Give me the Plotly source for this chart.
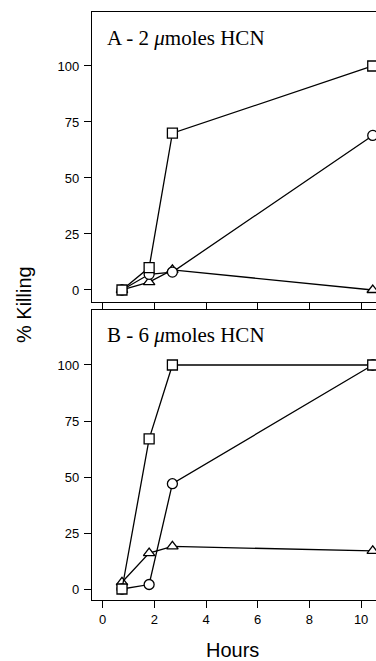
import plotly.graph_objects as go

# ---- data ----
hours = [0.75, 1.8, 2.7, 10.45]

a_square = [0, 10, 70, 100]
a_circle = [0, 7, 8, 69]
a_triangle = [0, 3.5, 9, 0]

b_square = [0, 67, 100, 100]
b_circle = [0, 2, 47, 100]
b_triangle = [3, 16, 19, 17]

x_ticks = [0, 2, 4, 6, 8, 10]
y_ticks = [0, 25, 50, 75, 100]
panel_titles = ["A - 2 <i>μ</i>moles HCN", "B - 6 <i>μ</i>moles HCN"]

# ---- layout geometry (pixels) ----
W, H = 376, 661
ML, MR, MT, MB = 92, 0, 12, 61
PH = H - MT - MB
PW = W - ML - MR


def py(pix):
    return (H - MB - pix) / PH


def px(pix):
    return (pix - ML) / PW


fig = go.Figure()

panels = [
    (a_square, a_circle, a_triangle, "x", "y"),
    (b_square, b_circle, b_triangle, "x2", "y2"),
]

for sq, ci, tr, xa, ya in panels:
    for vals, sym in [(tr, "triangle-up"), (ci, "circle"), (sq, "square")]:
        fig.add_trace(go.Scatter(
            x=hours, y=vals, mode="lines+markers",
            xaxis=xa, yaxis=ya,
            line=dict(color="black", width=1.3),
            marker=dict(symbol=sym, size=10, color="white",
                        line=dict(color="black", width=1.3)),
            showlegend=False, hoverinfo="skip",
        ))

axis_common = dict(
    showgrid=False, zeroline=False, showline=True, linecolor="black",
    linewidth=1.3, ticks="outside", ticklen=7, tickwidth=1.1,
    tickcolor="black",
    tickfont=dict(family="Liberation Sans", size=13, color="black"),
)

xr = [-0.41, 10.576]

fig.update_layout(
    width=W, height=H,
    margin=dict(l=ML, r=MR, t=MT, b=MB),
    paper_bgcolor="white", plot_bgcolor="white",
    xaxis=dict(domain=[0, 1], range=xr, anchor="y", tickvals=x_ticks,
               showticklabels=False, mirror=True, **axis_common),
    yaxis=dict(domain=[py(302), py(12)], range=[-5.36, 124.1], anchor="x",
               tickvals=y_ticks, ticklabelstandoff=2, **axis_common),
    xaxis2=dict(domain=[0, 1], range=xr, anchor="y2", tickvals=x_ticks,
                mirror=True, **axis_common),
    yaxis2=dict(domain=[py(600), py(310)], range=[-4.91, 124.55], anchor="x2",
                tickvals=y_ticks, ticklabelstandoff=2, **axis_common),
)

annots = [
    dict(text=panel_titles[0], x=px(105), y=py(38), xref="paper", yref="paper",
         xanchor="left", yanchor="middle", showarrow=False,
         font=dict(family="Liberation Serif", size=21, color="black")),
    dict(text=panel_titles[1], x=px(105), y=py(335), xref="paper", yref="paper",
         xanchor="left", yanchor="middle", showarrow=False,
         font=dict(family="Liberation Serif", size=21, color="black")),
    dict(text="% Killing", x=px(24), y=py(305), xref="paper", yref="paper",
         xanchor="center", yanchor="middle", showarrow=False, textangle=-90,
         font=dict(family="Liberation Sans", size=20, color="black")),
    dict(text="Hours", x=px(232), y=py(650), xref="paper", yref="paper",
         xanchor="center", yanchor="middle", showarrow=False,
         font=dict(family="Liberation Sans", size=20, color="black")),
]
fig.update_layout(annotations=annots)

fig.write_html("out.html")
